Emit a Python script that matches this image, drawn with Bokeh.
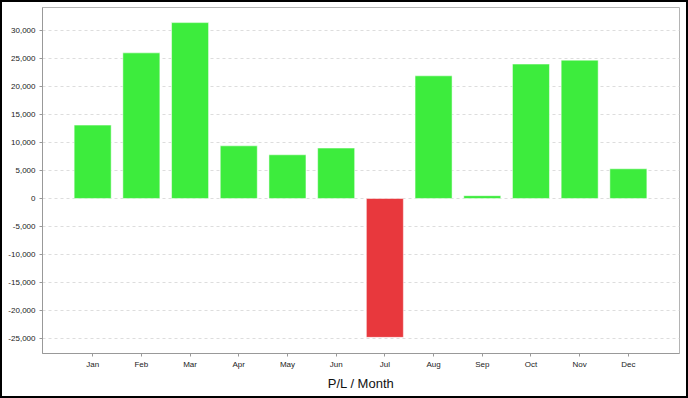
from bokeh.plotting import figure
from bokeh.models import Range1d, NumeralTickFormatter, FixedTicker, ColumnDataSource
from bokeh.embed import file_html
from bokeh.resources import INLINE

months = ["Jan", "Feb", "Mar", "Apr", "May", "Jun", "Jul", "Aug", "Sep", "Oct", "Nov", "Dec"]
pl_values = [13100, 26000, 31400, 9400, 7800, 9000, -24800, 21900, 500, 24000, 24700, 5300]
y_ticks = [-25000, -20000, -15000, -10000, -5000, 0, 5000, 10000, 15000, 20000, 25000, 30000]

GREEN = "#3dec3d"
RED = "#e8383d"
idx = list(range(len(months)))
colors = [GREEN if v >= 0 else RED for v in pl_values]
src = ColumnDataSource(dict(x=idx, month=months, value=pl_values, color=colors))

p = figure(width=684, height=394, output_backend="svg", toolbar_location=None,
           x_range=Range1d(-1.03, len(months) + 0.05),
           y_range=Range1d(-27680, 34100),
           min_border_left=40, min_border_right=11, min_border_top=5, min_border_bottom=47)
p.styles = {"border": "2px solid black", "box-sizing": "content-box"}

p.vbar(x="x", top="value", bottom=0, width=0.76, fill_color="color",
       line_color="white", line_alpha=0.5, line_width=1, source=src)

p.outline_line_color = "#b4b4b4"
p.outline_line_width = 1
p.background_fill_color = "white"
p.border_fill_color = "white"

p.xgrid.visible = False
p.ygrid.grid_line_color = "#dddddd"
p.ygrid.grid_line_dash = "3 3"
p.ygrid.ticker = FixedTicker(ticks=y_ticks)

p.xaxis.ticker = FixedTicker(ticks=idx)
p.xaxis.major_label_overrides = {i: m for i, m in zip(idx, months)}
p.yaxis.ticker = FixedTicker(ticks=y_ticks)
p.yaxis.formatter = NumeralTickFormatter(format="0,0")
for ax in (p.xaxis[0], p.yaxis[0]):
    ax.axis_line_color = "#999999"
    ax.major_tick_line_color = "#999999"
    ax.minor_tick_line_color = None
    ax.major_tick_in = 0
    ax.major_tick_out = 3
    ax.major_label_text_font = "Liberation Sans"
    ax.major_label_text_font_size = "8px"
    ax.major_label_text_color = "#222222"
p.xaxis.major_label_standoff = 3
p.yaxis.major_label_standoff = 4

p.xaxis.axis_label = "P/L / Month"
p.xaxis.axis_label_text_font = "Liberation Sans"
p.xaxis.axis_label_text_font_size = "13px"
p.xaxis.axis_label_text_font_style = "normal"
p.xaxis.axis_label_text_color = "#111111"
p.xaxis.axis_label_standoff = 4

open("out.html", "w").write(file_html(p, INLINE))
